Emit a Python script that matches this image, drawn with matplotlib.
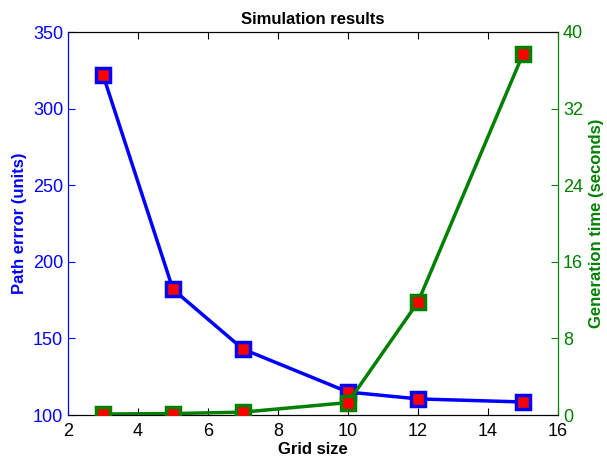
import matplotlib
matplotlib.use('Agg')
import matplotlib.pyplot as plt

grid_size = [3, 5, 7, 10, 12, 15]
path_error = [322, 182, 143, 115, 110.5, 108.5]
gen_time = [0.1, 0.15, 0.3, 1.3, 11.8, 37.7]

plt.rcParams['font.family'] = ['Liberation Sans', 'DejaVu Sans']

fig = plt.figure(figsize=(6.07, 4.61), dpi=100)
ax1 = fig.add_axes([68/607, 1-415/461, 490/607, 383/461])
ax2 = ax1.twinx()

ax1.plot(grid_size, path_error, color='blue', lw=2.5, marker='s', ms=10,
         mfc='red', mec='blue', mew=2.5, zorder=3)
ax2.plot(grid_size, gen_time, color='green', lw=2.5, marker='s', ms=10,
         mfc='red', mec='green', mew=2.5, zorder=3)

ax1.set_xlim(2, 16)
ax1.set_ylim(100, 350)
ax2.set_ylim(0, 40)
ax1.set_xticks(range(2, 17, 2))
ax1.set_yticks(range(100, 351, 50))
ax2.set_yticks(range(0, 41, 8))

for ax in (ax1, ax2):
    ax.tick_params(direction='in', length=5, labelsize=13)
ax1.tick_params(axis='x', top=True, colors='black', pad=6)
ax1.tick_params(axis='y', colors='blue')
ax2.tick_params(axis='y', colors='green')
ax1.spines['left'].set_color('blue')
ax2.spines['left'].set_color('blue')
ax2.spines['right'].set_color('green')
ax1.spines['right'].set_color('green')

ax1.set_xlabel('Grid size', fontsize=12, fontweight='bold', labelpad=1)
ax1.set_ylabel('Path errror (units)', fontsize=12, fontweight='bold', color='blue')
ax2.set_ylabel('Generation time (seconds)', fontsize=12, fontweight='bold', color='green')
ax1.set_title('Simulation results', fontsize=12, fontweight='bold', pad=6)

fig.savefig('out.png', dpi=100)
